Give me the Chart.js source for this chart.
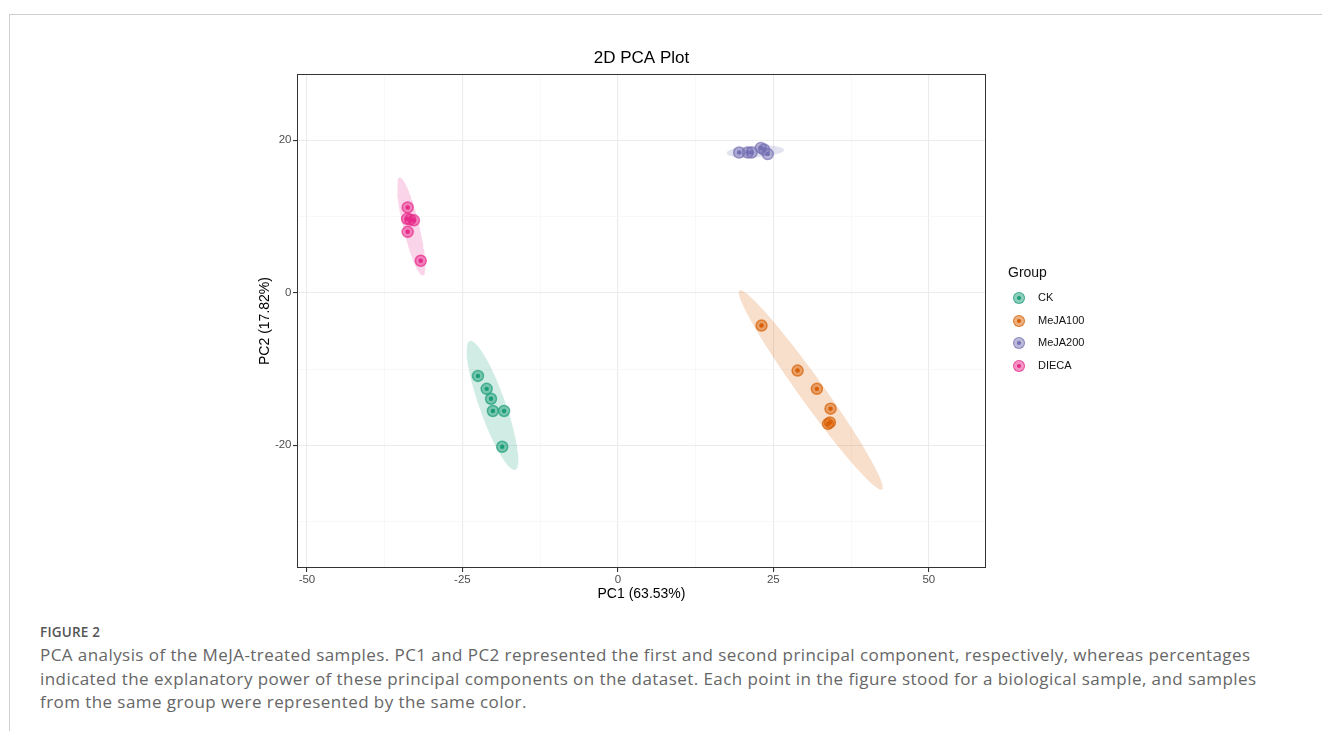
<!DOCTYPE html>
<html>
<head>
<meta charset="utf-8">
<title>2D PCA Plot</title>
<script src="https://cdn.jsdelivr.net/npm/chart.js@4.4.1/dist/chart.umd.min.js"></script>
<style>
  html, body { margin: 0; padding: 0; background: #fff; }
  body { width: 1322px; height: 731px; position: relative; overflow: hidden; }
  .frame { position: absolute; left: 9px; top: 14px; right: 0; bottom: 0;
           border-top: 1px solid #cfcfcf; border-left: 1px solid #cfcfcf; }
  #pca { position: absolute; left: 0; top: 0; }
  .legend { position: absolute; left: 1008px; top: 262px; font-family: "Liberation Sans", Arial, sans-serif; color: #111; }
  .legend .ttl { font-size: 14px; line-height: 20px; height: 27px; }
  .legend .item { position: relative; height: 22.7px; }
  .legend .sw { position: absolute; left: 4.5px; top: 3px; width: 10px; height: 10px; border-radius: 50%; }
  .legend .sw i { position: absolute; left: 3px; top: 3px; width: 4px; height: 4px; border-radius: 50%; }
  .legend .lab { position: absolute; left: 30px; top: 1px; font-size: 11px; line-height: 14px; }
  .caption { position: absolute; left: 40px; top: 622px; font-family: "Open Sans", Lato, sans-serif; color: #666; }
  .caption .fig { font-size: 13.5px; font-weight: 600; color: #555; line-height: 20px; letter-spacing: 0.2px; }
  .caption .txt { font-size: 17px; line-height: 23.5px; white-space: nowrap; letter-spacing: 0.43px; margin-top: 1px; }
</style>
</head>
<body>
<div class="frame"></div>
<canvas id="pca" width="1322" height="610"></canvas>
<div class="legend" id="legend"></div>
<div class="caption">
  <div class="fig">FIGURE 2</div>
  <div class="txt">PCA analysis of the MeJA-treated samples. PC1 and PC2 represented the first and second principal component, respectively, whereas percentages<br>indicated the explanatory power of these principal components on the dataset. Each point in the figure stood for a biological sample, and samples<br>from the same group were represented by the same color.</div>
</div>
<script>
// groups and Dark2 colours
const groups = ['CK', 'MeJA100', 'MeJA200', 'DIECA'];
const groupColors = ['#1B9E77', '#D95F02', '#7570B3', '#E7298A'];

// sample scores on PC1 / PC2
const ckPC1 = [-22.5, -21.1, -20.4, -20.1, -18.3, -18.6];
const ckPC2 = [-10.9, -12.6, -13.9, -15.5, -15.5, -20.2];
const meja100PC1 = [23.1, 28.9, 32.0, 34.2, 34.1, 33.8];
const meja100PC2 = [-4.3, -10.2, -12.6, -15.2, -17.0, -17.2];
const meja200PC1 = [19.5, 20.9, 21.5, 23.0, 23.5, 24.1];
const meja200PC2 = [18.4, 18.4, 18.4, 19.0, 18.8, 18.2];
const diecaPC1 = [-33.8, -33.9, -33.4, -32.8, -33.8, -31.7];
const diecaPC2 = [11.2, 9.7, 9.6, 9.5, 8.0, 4.2];

const pc1Scores = [ckPC1, meja100PC1, meja200PC1, diecaPC1];
const pc2Scores = [ckPC2, meja100PC2, meja200PC2, diecaPC2];

// axis limits and ticks
const xLimits = [-51.6, 59.2];
const yLimits = [-36.1, 28.7];
const xMajorStep = 25, yMajorStep = 20;
const ellipseScale = 2.65;

function rgba(hex, a) {
  const n = parseInt(hex.slice(1), 16);
  return `rgba(${(n >> 16) & 255},${(n >> 8) & 255},${n & 255},${a})`;
}

// confidence ellipse from the sample covariance (Cholesky of the 2x2 matrix)
function ellipse(xs, ys, k, steps = 120) {
  const n = xs.length;
  const mx = xs.reduce((s, v) => s + v, 0) / n;
  const my = ys.reduce((s, v) => s + v, 0) / n;
  let sxx = 0, syy = 0, sxy = 0;
  for (let i = 0; i < n; i++) {
    sxx += (xs[i] - mx) ** 2;
    syy += (ys[i] - my) ** 2;
    sxy += (xs[i] - mx) * (ys[i] - my);
  }
  sxx /= n - 1; syy /= n - 1; sxy /= n - 1;
  const a = Math.sqrt(sxx), b = sxy / a, c = Math.sqrt(Math.max(syy - b * b, 0));
  const pts = [];
  for (let i = 0; i <= steps; i++) {
    const t = (i / steps) * Math.PI * 2;
    pts.push({ x: mx + k * a * Math.cos(t), y: my + k * (b * Math.cos(t) + c * Math.sin(t)) });
  }
  return pts;
}

const datasets = [];
groups.forEach((g, gi) => {
  const col = groupColors[gi];
  const pts = pc1Scores[gi].map((x, i) => ({ x, y: pc2Scores[gi][i] }));
  datasets.push({
    label: g + ' ellipse', type: 'line', data: ellipse(pc1Scores[gi], pc2Scores[gi], ellipseScale),
    showLine: true, fill: 'shape', backgroundColor: rgba(col, 0.2), borderColor: 'transparent',
    borderWidth: 0, pointRadius: 0, tension: 0, order: 3
  });
  datasets.push({
    label: g, data: pts, pointRadius: 5.5, borderWidth: 1.5,
    backgroundColor: rgba(col, 0.5), borderColor: rgba(col, 0.7), order: 2
  });
  datasets.push({
    label: g + ' centre', data: pts, pointRadius: 2.2, borderWidth: 0,
    backgroundColor: col, order: 1
  });
});

// ggplot-like panel border round the plotting area
const panelBorder = {
  id: 'panelBorder',
  afterDatasetsDraw(chart) {
    const { ctx, chartArea: a } = chart;
    ctx.save();
    ctx.strokeStyle = '#333';
    ctx.lineWidth = 1;
    ctx.strokeRect(Math.round(a.left) + 0.5, Math.round(a.top) + 0.5,
      Math.round(a.right - a.left) - 1, Math.round(a.bottom - a.top) - 1);
    ctx.restore();
  }
};

Chart.defaults.font.family = '"Liberation Sans", Arial, sans-serif';

const isMajor = (v, step) => Math.abs(v / step - Math.round(v / step)) < 1e-6;

new Chart(document.getElementById('pca'), {
  type: 'scatter',
  data: { datasets },
  options: {
    responsive: false,
    animation: false,
    events: [],
    layout: { padding: { left: 248, right: 336, top: 0, bottom: 0 } },
    plugins: {
      legend: { display: false },
      tooltip: { enabled: false },
      title: {
        display: true, text: '2D PCA Plot', fullSize: false, color: '#000',
        font: { size: 17, weight: 'normal' }, padding: { top: 48.6, bottom: 5 }
      }
    },
    scales: {
      x: {
        type: 'linear', min: xLimits[0], max: xLimits[1],
        afterFit(s) { s.height = 42; },
        border: { display: false },
        grid: {
          tickLength: 4,
          color: c => isMajor(c.tick.value, xMajorStep) ? '#EBEBEB' : '#F5F5F5',
          lineWidth: c => isMajor(c.tick.value, xMajorStep) ? 1.1 : 0.7,
          tickColor: c => isMajor(c.tick.value, xMajorStep) ? '#333' : 'rgba(0,0,0,0)'
        },
        ticks: {
          stepSize: xMajorStep / 2, includeBounds: false, autoSkip: false, maxRotation: 0,
          padding: 1, color: '#4D4D4D', font: { size: 11.5 },
          callback: v => isMajor(v, xMajorStep) ? String(v) : ''
        },
        title: { display: true, text: 'PC1 (63.53%)', color: '#000', font: { size: 14 }, padding: { top: 0, bottom: 7.6 } }
      },
      y: {
        type: 'linear', min: yLimits[0], max: yLimits[1],
        afterFit(s) { s.width = 49; },
        border: { display: false },
        grid: {
          tickLength: 4,
          color: c => isMajor(c.tick.value, yMajorStep) ? '#EBEBEB' : '#F5F5F5',
          lineWidth: c => isMajor(c.tick.value, yMajorStep) ? 1.1 : 0.7,
          tickColor: c => isMajor(c.tick.value, yMajorStep) ? '#333' : 'rgba(0,0,0,0)'
        },
        ticks: {
          stepSize: yMajorStep / 2, includeBounds: false, autoSkip: false,
          padding: 1.5, color: '#4D4D4D', font: { size: 11.5 },
          callback: v => isMajor(v, yMajorStep) ? String(v) : ''
        },
        title: { display: true, text: 'PC2 (17.82%)', color: '#000', font: { size: 14 }, padding: { top: 8.6, bottom: 0 } }
      }
    }
  },
  plugins: [panelBorder]
});

// legend: keys built from the same groups/colours
const legend = document.getElementById('legend');
legend.innerHTML = '<div class="ttl">Group</div>' + groups.map((g, i) =>
  `<div class="item"><span class="sw" style="background:${rgba(groupColors[i], 0.5)};border:1.5px solid ${rgba(groupColors[i], 0.7)}"><i style="background:${groupColors[i]}"></i></span><span class="lab">${g}</span></div>`
).join('');
</script>
</body>
</html>
